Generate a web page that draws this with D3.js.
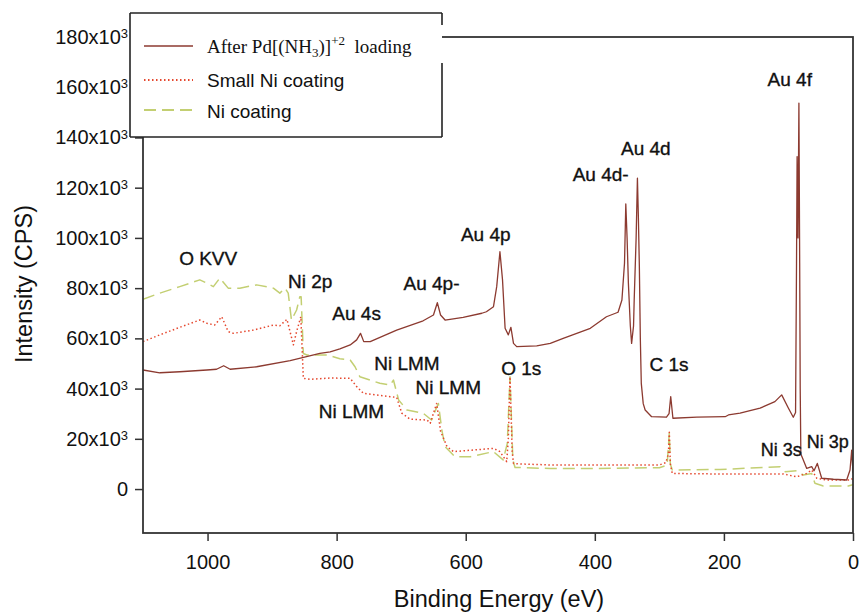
<!DOCTYPE html>
<html>
<head>
<meta charset="utf-8">
<script src="https://cdn.jsdelivr.net/npm/d3@7/dist/d3.min.js"></script>
<style>
  body { margin: 0; background: #fff; }
  svg text { font-family: "Liberation Sans", Arial, sans-serif; fill: #111; }
</style>
</head>
<body>
<div class="vis-xps"></div>
<script>
// After Pd[(NH3)]+2 loading (binding energy in eV, intensity in CPS)
const afterPdBE = [1100, 1074, 1043, 1001, 986, 975, 965, 924, 872, 826, 810, 795, 779, 769, 763, 758, 748, 707, 666, 650, 644, 639, 632, 604, 575, 568, 557, 552, 547, 543, 539, 534, 530, 526, 521, 490, 469, 449, 407, 382, 364, 358, 354, 352, 350, 348, 345, 343, 340, 339, 336, 334, 332.5, 331, 329.5, 328, 325, 322, 312, 289, 285, 282.4, 279, 242, 198, 193, 175, 144, 121, 110.5, 100, 92.5, 89, 87.5, 86.6, 85.2, 83.8, 82.6, 81.8, 80.8, 77, 71.7, 64, 60.4, 55.3, 48.5, 30.4, 9.8, 4.6, 2, 0];
const afterPdCPS = [47400, 46300, 46700, 47400, 47700, 49100, 47700, 48700, 51100, 54000, 54600, 55800, 57400, 59400, 62000, 58700, 58700, 63300, 67000, 69300, 74200, 69300, 67300, 68400, 70000, 70600, 72600, 80600, 94500, 83300, 64000, 61400, 64400, 58000, 56700, 57000, 58000, 60000, 64000, 68600, 70400, 75300, 90000, 113500, 100000, 82000, 65000, 58000, 65000, 75300, 100000, 123800, 108000, 88600, 60000, 42100, 34000, 31500, 28800, 28600, 30000, 36800, 28200, 28600, 28800, 29500, 30200, 32200, 34800, 37500, 32200, 28600, 30500, 90000, 132400, 100000, 153700, 90000, 40000, 14000, 11600, 8200, 8900, 7300, 10200, 4300, 3900, 3600, 7600, 15500, 6300];

// Small Ni coating
const smallNiBE = [1100, 1074, 1043, 1012, 1001, 989, 978, 968, 960, 929, 898, 888, 877, 867, 862, 855.5, 851.6, 841, 810, 779, 769, 758.5, 717, 707, 699, 686, 660, 655, 645, 639, 629, 619, 557, 547, 536.5, 534, 531.4, 528, 526, 516, 469, 400, 300, 290, 286, 284.6, 283, 280, 206, 108, 87, 72, 64, 56, 41, 4.6, 2, 0];
const smallNiCPS = [58700, 61400, 64400, 67300, 66000, 65300, 68600, 62700, 62000, 63300, 65300, 65000, 67600, 57400, 62700, 68600, 44100, 43700, 44200, 44100, 40800, 38100, 36800, 36500, 30200, 27800, 27500, 26200, 34100, 23000, 16900, 14900, 16200, 14900, 10900, 20000, 44700, 15000, 10200, 10000, 9600, 9600, 9600, 10500, 14000, 22600, 10000, 6200, 6000, 6000, 4900, 6200, 7600, 4300, 3600, 3600, 4000, 3600];

// Ni coating
const niBE = [1100, 1074, 1043, 1012, 1001, 991, 981, 968, 950, 924, 898, 888, 880, 875, 870, 862, 857, 855, 851.6, 846, 815, 795, 779, 771.5, 764, 733, 717, 712, 704, 691, 666, 653, 642.4, 637, 632, 617, 593, 557, 542, 535.6, 531.4, 527, 523.6, 469, 400, 300, 288, 284.6, 283, 280, 206, 113, 105, 87, 77, 64, 59, 46, 7.3, 2, 0];
const niCPS = [75600, 78000, 80600, 83300, 82000, 80600, 84000, 80000, 80000, 81300, 80000, 78000, 80000, 78000, 67300, 71300, 76600, 76600, 54000, 53400, 53400, 51900, 51400, 48700, 44700, 42100, 41400, 43400, 35500, 31500, 30200, 27500, 34100, 23500, 16900, 12900, 12900, 14900, 11600, 18200, 44700, 11600, 8600, 8200, 8200, 8500, 9500, 22200, 10000, 7600, 7800, 8900, 6900, 7300, 5600, 6200, 2300, 1200, 1200, 1600, 1800];

const xTicks = [1000, 800, 600, 400, 200, 0];
const yTicks = [0, 20000, 40000, 60000, 80000, 100000, 120000, 140000, 160000, 180000];

// peak labels: text, binding energy of the label centre, intensity of its baseline
const peakNames = ["O KVV", "Ni 2p", "Au 4s", "Au 4p-", "Au 4p", "Ni LMM", "Ni LMM", "Ni LMM", "O 1s", "Au 4d-", "Au 4d", "Au 4f", "C 1s", "Ni 3s", "Ni 3p"];
const peakBE = [999, 841, 769, 653, 569, 691, 627, 777, 514, 391, 321, 98, 285, 111, 39];
const peakCPS = [89200, 80000, 67300, 79300, 98800, 47400, 37900, 28300, 45400, 122700, 133000, 160500, 47000, 13200, 16400];

const width = 859, height = 616;
const plot = {left: 143, right: 853, top: 37, bottom: 533};

const svg = d3.select('.vis-xps').append('svg')
    .attr('width', width)
    .attr('height', height);
svg.append('rect').attr('width', width).attr('height', height).attr('fill', '#fff');

const x = d3.scaleLinear().domain([1100, 0]).range([plot.left, plot.right]);
const y = d3.scaleLinear().domain([-17500, 180000]).range([plot.bottom, plot.top]);

svg.append('clipPath').attr('id', 'clip')
  .append('rect')
    .attr('x', plot.left).attr('y', plot.top)
    .attr('width', plot.right - plot.left).attr('height', plot.bottom - plot.top);

const line = d3.line()
    .x(d => x(d[0]))
    .y(d => y(d[1]));

const series = [
  {be: niBE, cps: niCPS, color: '#c3cf72', dash: '12,6', w: 1.5},
  {be: smallNiBE, cps: smallNiCPS, color: '#e5472e', dash: '1.5,2.5', w: 1.5},
  {be: afterPdBE, cps: afterPdCPS, color: '#8c3a30', dash: null, w: 1.3}
];

const lines = svg.append('g').attr('clip-path', 'url(#clip)');
series.forEach(s => {
  lines.append('path')
    .datum(s.be.map((v, i) => [v, s.cps[i]]))
    .attr('fill', 'none')
    .attr('stroke', s.color)
    .attr('stroke-width', s.w)
    .attr('stroke-dasharray', s.dash)
    .attr('stroke-linejoin', 'round')
    .attr('d', line);
});

// axes
const xAxis = svg.append('g')
    .attr('transform', 'translate(0,' + plot.bottom + ')')
    .call(d3.axisBottom(x).tickValues(xTicks).tickSize(8).tickPadding(14).tickFormat(d3.format('d')));
const yAxis = svg.append('g')
    .attr('transform', 'translate(' + plot.left + ',0)')
    .call(d3.axisLeft(y).tickValues(yTicks).tickSize(8).tickPadding(7));

[xAxis, yAxis].forEach(g => {
  g.select('.domain').remove();
  g.selectAll('.tick line').attr('stroke', '#333').attr('stroke-width', 1.5);
  g.selectAll('.tick text').attr('font-size', 20).attr('fill', '#111')
    .style('font-family', '"Liberation Sans", Arial, sans-serif');
});

yAxis.selectAll('.tick text').each(function(d) {
  const t = d3.select(this);
  if (d === 0) { t.text('0'); return; }
  t.text((d / 1000) + 'x10');
  t.append('tspan').attr('dy', '-0.45em').attr('font-size', 13).text('3');
});

// frame
svg.append('rect')
    .attr('x', plot.left).attr('y', plot.top)
    .attr('width', plot.right - plot.left).attr('height', plot.bottom - plot.top)
    .attr('fill', 'none').attr('stroke', '#333').attr('stroke-width', 1.8);

// axis titles
svg.append('text')
    .attr('x', (plot.left + plot.right) / 2 + 1).attr('y', 607)
    .attr('text-anchor', 'middle').attr('font-size', 23.5)
    .text('Binding Energy (eV)');
svg.append('text')
    .attr('transform', 'translate(32,284) rotate(-90)')
    .attr('text-anchor', 'middle').attr('font-size', 23.5)
    .text('Intensity (CPS)');

// peak labels
svg.append('g').selectAll('text')
  .data(peakNames)
  .enter().append('text')
    .attr('x', (d, i) => x(peakBE[i]))
    .attr('y', (d, i) => y(peakCPS[i]))
    .attr('text-anchor', 'middle')
    .attr('font-size', (d, i) => i >= 13 ? 18 : 19)
    .attr('stroke', '#111').attr('stroke-width', 0.35)
    .text(d => d);

// handmade legend
const lg = svg.append('g');
lg.append('rect').attr('x', 130).attr('y', 13).attr('width', 312).attr('height', 124).attr('fill', '#fff');
const border = [[130, 13, 442, 13], [130, 13, 130, 137], [130, 137, 442, 137], [442, 13, 442, 25], [442, 63, 442, 137]];
border.forEach(b => lg.append('line')
    .attr('x1', b[0]).attr('y1', b[1]).attr('x2', b[2]).attr('y2', b[3])
    .attr('stroke', '#222').attr('stroke-width', 1.6));

const legendY = [46, 80, 110];
series.slice().reverse().forEach((s, i) => {
  lg.append('line')
    .attr('x1', 144).attr('x2', 193).attr('y1', legendY[i]).attr('y2', legendY[i])
    .attr('stroke', s.color).attr('stroke-width', s.w + 0.3)
    .attr('stroke-dasharray', s.dash);
});

const t1 = lg.append('text').attr('x', 207).attr('y', 53)
    .style('font-family', '"Liberation Serif", "Times New Roman", serif').attr('font-size', 19);
t1.append('tspan').text('After Pd[(NH');
t1.append('tspan').attr('dy', 4).attr('font-size', 13).text('3');
t1.append('tspan').attr('dy', -4).text(')]');
t1.append('tspan').attr('dy', -8).attr('font-size', 13).text('+2');
t1.append('tspan').attr('dy', 8).text('\u00a0 loading');

lg.append('text').attr('x', 207).attr('y', 87).attr('font-size', 19).text('Small Ni coating');
lg.append('text').attr('x', 207).attr('y', 118).attr('font-size', 19).text('Ni coating');
</script>
</body>
</html>
